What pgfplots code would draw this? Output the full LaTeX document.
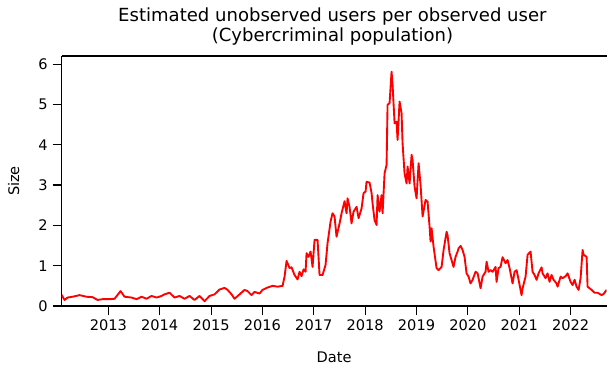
\documentclass[border=0pt]{standalone}
\usepackage{fontspec}
\setmainfont{DejaVu Sans}
\usepackage{pgfplots}
\pgfplotsset{compat=1.18}
\pgfplotstableread{
x y
2012.089 0.28
2012.147 0.15
2012.206 0.21
2012.303 0.23
2012.439 0.27
2012.576 0.23
2012.693 0.22
2012.790 0.15
2012.887 0.17
2013.024 0.17
2013.121 0.18
2013.238 0.37
2013.316 0.23
2013.452 0.21
2013.549 0.17
2013.647 0.23
2013.744 0.18
2013.841 0.25
2013.939 0.21
2014.036 0.25
2014.094 0.29
2014.192 0.33
2014.289 0.21
2014.386 0.25
2014.484 0.18
2014.581 0.25
2014.678 0.15
2014.776 0.25
2014.873 0.12
2014.971 0.25
2015.068 0.29
2015.165 0.41
2015.263 0.45
2015.321 0.40
2015.399 0.29
2015.457 0.18
2015.555 0.29
2015.652 0.40
2015.710 0.37
2015.788 0.27
2015.847 0.35
2015.944 0.31
2016.002 0.40
2016.100 0.46
2016.197 0.50
2016.295 0.48
2016.392 0.50
2016.431 0.73
2016.470 1.12
2016.528 0.94
2016.567 0.96
2016.625 0.77
2016.684 0.66
2016.723 0.85
2016.762 0.74
2016.801 0.91
2016.840 0.85
2016.859 1.31
2016.898 1.22
2016.937 1.35
2016.976 0.97
2017.015 1.64
2017.073 1.64
2017.112 0.77
2017.171 0.77
2017.229 1.02
2017.268 1.56
2017.326 2.09
2017.365 2.30
2017.404 2.22
2017.443 1.72
2017.502 2.05
2017.541 2.30
2017.560 2.40
2017.599 2.60
2017.638 2.30
2017.657 2.67
2017.696 2.46
2017.735 2.05
2017.774 2.34
2017.833 2.46
2017.872 2.18
2017.930 2.42
2017.969 2.80
2018.008 2.84
2018.027 3.08
2018.086 3.06
2018.125 2.80
2018.144 2.55
2018.183 2.13
2018.222 2.01
2018.242 2.75
2018.280 2.34
2018.319 2.75
2018.339 2.30
2018.378 3.29
2018.417 3.50
2018.436 4.99
2018.475 5.03
2018.514 5.81
2018.534 5.48
2018.573 4.53
2018.611 4.57
2018.631 4.12
2018.670 5.07
2018.709 4.78
2018.728 4.04
2018.767 3.29
2018.806 3.04
2018.826 3.46
2018.865 3.04
2018.904 3.75
2018.923 3.62
2018.962 2.96
2019.001 2.67
2019.040 3.54
2019.079 3.00
2019.118 2.22
2019.176 2.63
2019.215 2.59
2019.254 1.97
2019.273 1.60
2019.293 1.93
2019.332 1.47
2019.390 0.94
2019.429 0.89
2019.488 0.97
2019.527 1.39
2019.585 1.84
2019.604 1.76
2019.643 1.31
2019.682 1.14
2019.721 0.97
2019.760 1.22
2019.799 1.35
2019.819 1.43
2019.858 1.49
2019.896 1.39
2019.935 1.22
2019.974 0.81
2020.013 0.73
2020.052 0.56
2020.091 0.65
2020.150 0.85
2020.189 0.81
2020.247 0.44
2020.286 0.73
2020.344 0.85
2020.364 1.10
2020.403 0.85
2020.442 0.89
2020.481 0.85
2020.539 0.97
2020.558 0.60
2020.597 0.94
2020.636 0.97
2020.675 1.21
2020.734 1.06
2020.773 1.14
2020.812 0.94
2020.870 0.56
2020.909 0.85
2020.948 0.89
2020.987 0.65
2021.045 0.27
2021.065 0.44
2021.123 0.73
2021.162 1.27
2021.220 1.35
2021.259 0.85
2021.298 0.77
2021.337 0.65
2021.376 0.81
2021.435 0.96
2021.454 0.81
2021.512 0.69
2021.551 0.81
2021.590 0.60
2021.629 0.77
2021.668 0.65
2021.727 0.56
2021.746 0.48
2021.805 0.73
2021.843 0.69
2021.902 0.74
2021.941 0.81
2021.999 0.60
2022.038 0.52
2022.077 0.65
2022.116 0.48
2022.155 0.40
2022.194 0.69
2022.233 1.39
2022.252 1.27
2022.311 1.22
2022.330 0.48
2022.408 0.40
2022.466 0.33
2022.525 0.33
2022.603 0.27
2022.642 0.30
2022.700 0.40
}\datatable
\begin{document}
\begin{tikzpicture}
\begin{axis}[
  name=ax,
  scale only axis,
  width=392.4pt, height=180pt,
  xmin=2012.089, xmax=2022.70,
  ymin=0, ymax=6.2,
  separate axis lines,
  axis x line*=box,
  axis y line*=left,
  axis line style={-, line width=0.8pt},
  tick align=outside,
  major tick length=6.5pt,
  tick style={black, line width=0.8pt},
  xtick={2013,2014,2015,2016,2017,2018,2019,2020,2021,2022},
  xticklabels={2013,2014,2015,2016,2017,2018,2019,2020,2021,2022},
  ytick={0,1,2,3,4,5,6},
  xtick pos=bottom, ytick pos=left,
  /pgf/number format/assume math mode=true,
  ticklabel style={font=\fontsize{10.5}{12}\selectfont},
  xlabel={Date},
  ylabel={Size},
  label style={font=\fontsize{10.5}{12}\selectfont},
  xlabel style={at={(axis description cs:0.5,-0.224)}, anchor=base},
  ylabel style={at={(axis description cs:-0.088,0.5)}, anchor=center},
  title={Estimated unobserved users per observed user\\(Cybercriminal population)},
  title style={at={(axis description cs:0.497,1)}, anchor=south, yshift=1.2pt, inner sep=0pt, align=center, font=\fontsize{13}{15}\selectfont},
  clip=true,
]
\addplot[color=red, line width=1.35pt, line join=round] table[x=x,y=y] {\datatable};
\end{axis}
\pgfresetboundingbox
\path ([shift={(-44.3pt,-44.64pt)}]ax.south west) rectangle ([shift={(392.7pt,220.32pt)}]ax.south west);
\end{tikzpicture}
\end{document}
